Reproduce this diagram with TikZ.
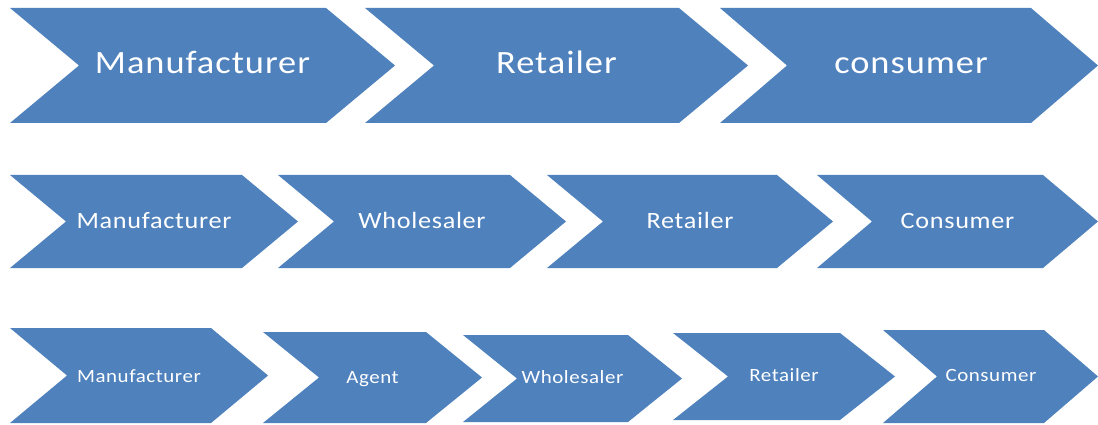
\documentclass[tikz,border=0pt]{standalone}
\usepackage{fontspec}
\newfontfamily\chevfont[FakeStretch=1.12,LetterSpace=3]{Carlito}
\definecolor{chevblue}{HTML}{4F81BD}
\tikzset{
  chevfill/.style={fill=chevblue},
  chevlabel/.style={anchor=base, text=white, inner sep=0pt, font=\chevfont},
  bigtext/.style={chevlabel, font=\chevfont\fontsize{32.5}{38}\selectfont},
  midtext/.style={chevlabel, font=\chevfont\fontsize{23.4}{28}\selectfont},
  smalltext/.style={chevlabel, font=\chevfont\fontsize{18.7}{22}\selectfont},
}
% \chevron{left}{right}{top}{bottom}{depth}: arrow-shaped band with a notch on the left
\newcommand{\chevron}[5]{%
  \fill[chevfill] (#1,#3) -- ({#2-#5},#3) -- (#2,{(#3+#4)/2}) -- ({#2-#5},#4)
    -- (#1,#4) -- ({#1+#5},{(#3+#4)/2}) -- cycle;}
\begin{document}
\begin{tikzpicture}[x=1pt,y=-1pt]
\useasboundingbox (0,0) rectangle (1098,425);

% first chain: three stages
\chevron{10}{395}{8}{123}{69}
\chevron{365}{748}{8}{123}{69}
\chevron{720}{1098}{8}{123}{67}
\node[bigtext] (a1) at (202.5,74) {Manufacturer};
\node[bigtext] (a2) at (556.5,74) {Retailer};
\node[bigtext] (a3) at (911,74) {consumer};

% second chain: four stages
\chevron{10}{298}{175}{268}{56}
\chevron{278}{566}{175}{268}{56}
\chevron{547}{833}{175}{268}{56}
\chevron{817}{1098}{175}{268}{55}
\node[midtext] (b1) at (154,228) {Manufacturer};
\node[midtext] (b2) at (422,228) {Wholesaler};
\node[midtext] (b3) at (690,228) {Retailer};
\node[midtext] (b4) at (957.5,228) {Consumer};

% third chain: five stages
\chevron{10}{268}{328}{423}{57}
\chevron{263}{482}{332}{423}{56}
\chevron{463}{682}{335}{422}{54}
\chevron{673}{895}{333}{420}{55}
\chevron{883}{1098}{330}{423}{54}
\node[smalltext] (c1) at (139,382) {Manufacturer};
\node[smalltext] (c2) at (372.5,383) {Agent};
\node[smalltext] (c3) at (572.5,383) {Wholesaler};
\node[smalltext] (c4) at (784,381) {Retailer};
\node[smalltext] (c5) at (991,381) {Consumer};
\end{tikzpicture}
\end{document}
